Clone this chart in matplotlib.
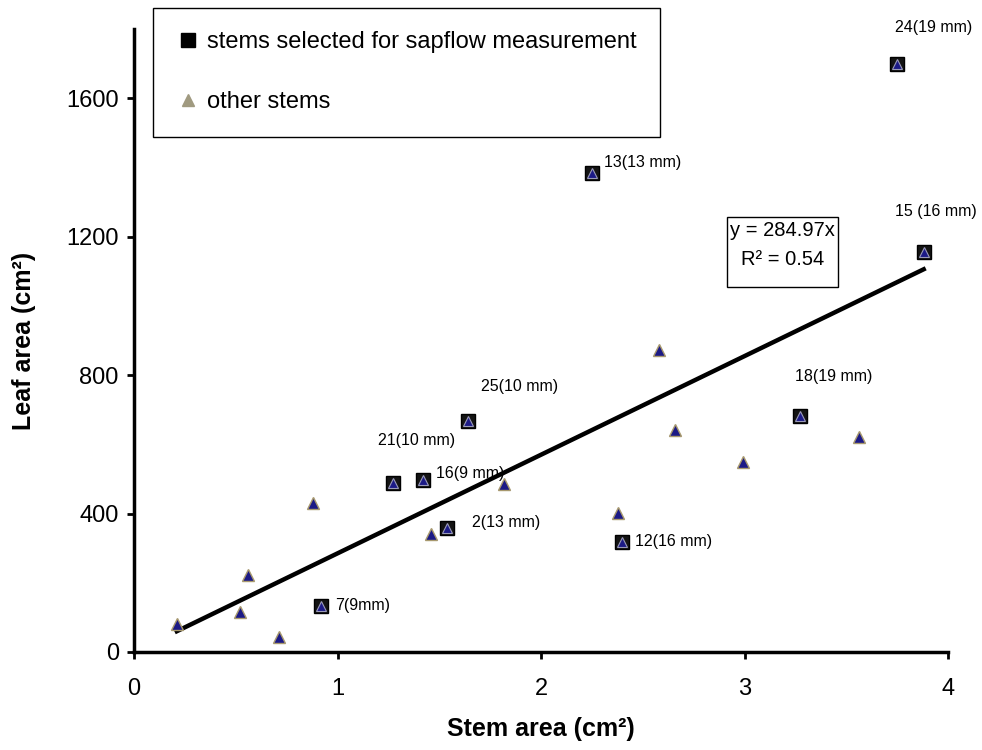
import matplotlib
matplotlib.use("Agg")
import matplotlib.pyplot as plt
from matplotlib.lines import Line2D
from matplotlib.patches import Rectangle

plt.rcParams['font.family'] = ['Liberation Sans', 'DejaVu Sans']

# selected stems (sapflow measurement)
sel_labels = ["24(19 mm)", "13(13 mm)", "15 (16 mm)", "25(10 mm)", "18(19 mm)",
              "21(10 mm)", "16(9 mm)", "2(13 mm)", "12(16 mm)", "7(9mm)"]
sel_x = [3.75, 2.25, 3.88, 1.64, 3.27, 1.27, 1.42, 1.54, 2.40, 0.92]
sel_y = [1700, 1385, 1156, 668, 683, 488, 498, 358, 318, 133]

# other stems
oth_x = [0.21, 0.52, 0.56, 0.71, 0.88, 1.46, 1.82, 2.38, 2.58, 2.66, 2.99, 3.56]
oth_y = [80, 116, 222, 43, 430, 341, 484, 402, 873, 640, 550, 621]

slope = 284.97
r2 = 0.54

x_ticks = [0, 1, 2, 3, 4]
y_ticks = [0, 400, 800, 1200, 1600]

# label offsets in pixels from the marker (dx, dy)
label_off = [(-2, 36), (12, 10), (-29, 40), (13, 34), (-5, 39),
             (-15, 43), (13, 6), (25, 6), (13, 0), (14, 0)]

fig = plt.figure(figsize=(9.82, 7.5), dpi=100)
ax = fig.add_axes([0.1365, 0.1307, 0.829, 0.8307])

# fitted line through origin
all_x = sel_x + oth_x
fx = [min(all_x), max(all_x)]
ax.plot(fx, [slope * v for v in fx], color='black', lw=3.2, zorder=2)

tri_face = '#1c1a86'
ax.plot(oth_x, oth_y, ls='none', marker='^', ms=9, mfc=tri_face,
        mec='#a8996e', mew=1.0, zorder=3)
ax.plot(sel_x, sel_y, ls='none', marker='s', ms=10.5, mfc='#141414',
        mec='black', mew=1.0, zorder=4)
ax.plot(sel_x, sel_y, ls='none', marker='^', ms=6.5, mfc=tri_face,
        mec='#9a9ab8', mew=0.8, zorder=5)

for lab, x, y, off in zip(sel_labels, sel_x, sel_y, label_off):
    ax.annotate(lab, (x, y), xytext=off, textcoords='offset pixels',
                ha='left', va='center', fontsize=11.5)

# equation box (Excel-style trendline label)
ax.add_patch(Rectangle((0.7285, 0.586), 0.1365, 0.112, transform=ax.transAxes,
                       fc='white', ec='black', lw=1, zorder=6))
ax.text(0.7965, 0.677, f"y = {slope:.2f}x", transform=ax.transAxes,
        ha='center', va='center', fontsize=14.5, zorder=7)
ax.text(0.7965, 0.630, f"R² = {r2:.2f}", transform=ax.transAxes,
        ha='center', va='center', fontsize=14.5, zorder=7)

ax.set_xlim(0, 4)
ax.set_ylim(0, 1800)
ax.set_xticks(x_ticks)
ax.set_yticks(y_ticks)
ax.spines['top'].set_visible(False)
ax.spines['right'].set_visible(False)
for s in ['left', 'bottom']:
    ax.spines[s].set_linewidth(2.5)
ax.tick_params(axis='both', direction='out', length=5, width=2, labelsize=17)
ax.tick_params(axis='y', pad=6)
ax.tick_params(axis='x', pad=14)

ax.set_xlabel("Stem area (cm²)", fontsize=18, fontweight='bold')
ax.set_ylabel("Leaf area (cm²)", fontsize=18, fontweight='bold')
ax.xaxis.set_label_coords(0.5, -0.105)
ax.yaxis.set_label_coords(-0.12, 0.5)

handles = [
    Line2D([], [], ls='none', marker='s', ms=10, mfc='black', mec='black'),
    Line2D([], [], ls='none', marker='^', ms=9, mfc='#a09a80', mec='#a09a80'),
]
leg = ax.legend(handles, ["stems selected for sapflow measurement", "other stems"],
                loc='upper left', bbox_to_anchor=(0.023, 1.034), borderaxespad=0,
                fontsize=17, frameon=True, fancybox=False, framealpha=1,
                edgecolor='black', borderpad=1.0, labelspacing=1.6,
                handlelength=1.0, handletextpad=0.3)
leg.get_frame().set_linewidth(1.0)

fig.savefig("out.png", dpi=100, facecolor='white')
